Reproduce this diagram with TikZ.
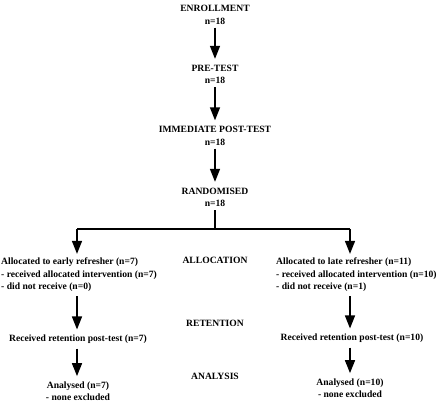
\documentclass[tikz,border=0pt]{standalone}
\usepackage{fontspec}
\setmainfont{Liberation Serif}
\usetikzlibrary{arrows.meta}
\begin{document}
\begin{tikzpicture}[x=1pt,y=-1pt,
  txt/.style={inner sep=0pt, font=\fontsize{9.6}{12.5}\selectfont\bfseries, align=center},
  ltxt/.style={inner sep=0pt, font=\fontsize{9.6}{12.5}\selectfont\bfseries, align=left, anchor=west},
  line/.style={line width=1.4pt},
  arr/.style={line width=1.4pt, -{Triangle[width=10pt,length=13pt]}}]
\useasboundingbox (0,0) rectangle (440,403);
\node[txt] (enr) at (215,15) {ENROLLMENT\\n=18};
\node[txt] (pre) at (215,74.5) {PRE-TEST\\n=18};
\node[txt] (imm) at (215,136) {IMMEDIATE POST-TEST\\n=18};
\node[txt] (rand) at (215,197.5) {RANDOMISED\\n=18};
\node[ltxt] (la) at (1,275) {Allocated to early refresher (n=7)\\- received allocated intervention (n=7)\\- did not receive (n=0)};
\node[ltxt] (ra) at (276,275) {Allocated to late refresher (n=11)\\- received allocated intervention (n=10)\\- did not receive (n=1)};
\node[txt] (alloc) at (215,260) {ALLOCATION};
\node[txt] (ret) at (215,323) {RETENTION};
\node[txt] (ana) at (215,376) {ANALYSIS};
\node[txt] (lret) at (78,339) {Received retention post-test (n=7)};
\node[txt] (rret) at (352,338) {Received retention post-test (n=10)};
\node[txt] (lana) at (78,391) {Analysed (n=7)\\- none excluded};
\node[txt] (rana) at (350,388) {Analysed (n=10)\\- none excluded};
\coordinate (split) at (215,229);
\coordinate (lt) at (77,229);
\coordinate (rt) at (350,229);
\draw[arr, shorten <=3pt, shorten >=6pt] (enr.south) -- (pre.north);
\draw[arr, shorten <=3pt, shorten >=6pt] (pre.south) -- (imm.north);
\draw[arr, shorten <=3pt, shorten >=6pt] (imm.south) -- (rand.north);
\draw[line, shorten <=3pt] (rand.south) -- (split);
\draw[line] (lt) -- (rt);
\draw[arr, shorten >=4pt] (lt) -- (lt |- la.north);
\draw[arr, shorten >=4pt] (rt) -- (rt |- ra.north);
\draw[arr, shorten <=4pt, shorten >=5pt] (lt |- la.south) -- (lt |- lret.north);
\draw[arr, shorten <=4pt, shorten >=5pt] (rt |- ra.south) -- (rt |- rret.north);
\draw[arr, shorten <=5pt, shorten >=5pt] (lt |- lret.south) -- (lt |- lana.north);
\draw[arr, shorten <=5pt, shorten >=5pt] (rt |- rret.south) -- (rt |- rana.north);
\end{tikzpicture}
\end{document}
